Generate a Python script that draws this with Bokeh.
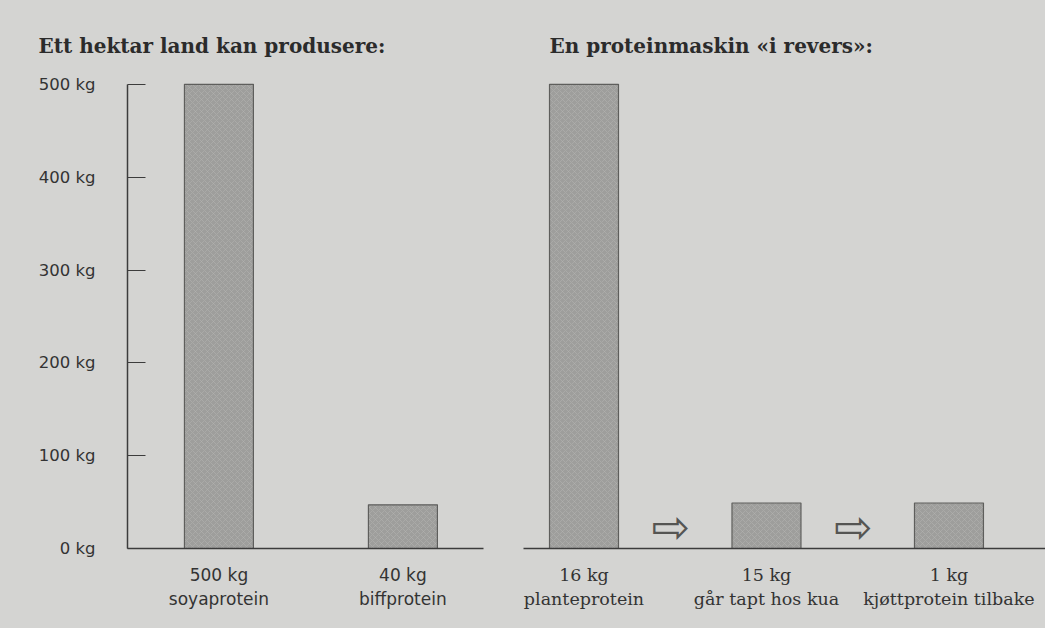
from bokeh.plotting import figure
from bokeh.layouts import row
from bokeh.models import Range1d, FixedTicker
from bokeh.core.properties import value
from bokeh.embed import file_html
from bokeh.resources import INLINE

# ---- data ----
left_title = "Ett hektar land kan produsere:"
left_amounts = ["500 kg", "40 kg"]
left_names = ["soyaprotein", "biffprotein"]
left_values = [500, 47]

right_title = "En proteinmaskin «i revers»:"
right_amounts = ["16 kg", "15 kg", "1 kg"]
right_names = ["planteprotein", "går tapt hos kua", "kjøttprotein tilbake"]
right_values = [500, 49, 49]

y_ticks = [0, 100, 200, 300, 400, 500]
y_tick_labels = ["0 kg", "100 kg", "200 kg", "300 kg", "400 kg", "500 kg"]

arrow_symbol = "⇨"

# ---- style ----
BG = "#d4d4d2"
BAR = "#9e9e9c"
BAR_LINE = "#5e5e5c"
INK = "#333333"
AXIS = "#3c3c3c"
Y_MAX = 502


def style_common(p):
    p.background_fill_color = BG
    p.border_fill_color = BG
    p.outline_line_color = None
    p.grid.visible = False
    p.title.align = "left"
    p.title.text_font = "DejaVu Serif"
    p.title.text_font_size = "20px"
    p.title.text_font_style = "bold"
    p.title.text_color = "#2b2b2b"
    p.title.standoff = 50


def style_xaxis(ax, font, size, ticks, labels):
    ax.ticker = FixedTicker(ticks=ticks)
    ax.major_label_overrides = {t: l for t, l in zip(ticks, labels)}
    ax.major_tick_in = 0
    ax.major_tick_out = 0
    ax.minor_tick_line_color = None
    ax.axis_line_color = AXIS
    ax.axis_line_width = 1.5
    ax.major_label_text_font = font
    ax.major_label_text_font_size = size
    ax.major_label_text_color = INK
    ax.major_label_text_line_height = 1.2
    ax.major_label_standoff = 16


def bars(p, xs, vals, width):
    p.vbar(x=xs, top=vals, bottom=0, width=width,
           fill_color=BAR, line_color=BAR_LINE, line_width=1.2,
           hatch_pattern="x", hatch_color="#b8b8b6", hatch_scale=6,
           hatch_weight=1, hatch_alpha=0.45)


# ---- left panel ----
lx = list(range(len(left_values)))
p1 = figure(width=523, height=628, title=left_title,
            x_range=Range1d(-0.497, 1.438), y_range=Range1d(0, Y_MAX),
            output_backend="svg", toolbar_location=None,
            min_border_left=127, min_border_right=40,
            min_border_top=82, min_border_bottom=80)
style_common(p1)
p1.title.offset = -89
bars(p1, lx, left_values, 0.375)
style_xaxis(p1.xaxis[0], "DejaVu Sans", "17px", lx,
            [a + "\n" + n for a, n in zip(left_amounts, left_names)])
ya = p1.yaxis[0]
ya.ticker = FixedTicker(ticks=y_ticks)
ya.major_label_overrides = {t: l for t, l in zip(y_ticks, y_tick_labels)}
ya.bounds = (0, 500)
ya.major_tick_in = 18
ya.major_tick_out = 0
ya.major_tick_line_color = AXIS
ya.major_tick_line_width = 1.2
ya.minor_tick_line_color = None
ya.axis_line_color = AXIS
ya.axis_line_width = 1.5
ya.major_label_text_font = "DejaVu Sans"
ya.major_label_text_font_size = "16.5px"
ya.major_label_text_color = INK
ya.major_label_standoff = 32

# ---- right panel ----
rx = list(range(len(right_values)))
p2 = figure(width=522, height=628, title=right_title,
            x_range=Range1d(-0.3315, 2.529), y_range=Range1d(0, Y_MAX),
            y_axis_location=None,
            output_backend="svg", toolbar_location=None,
            min_border_left=0, min_border_right=0,
            min_border_top=82, min_border_bottom=80)
style_common(p2)
p2.title.offset = 26
bars(p2, rx, right_values, 0.378)
style_xaxis(p2.xaxis[0], "DejaVu Serif", "17.5px", rx,
            [a + "\n" + n for a, n in zip(right_amounts, right_names)])
ax_pos = [i + 0.475 for i in rx[:-1]]
p2.text(x=ax_pos, y=[23] * len(ax_pos), text=[arrow_symbol] * len(ax_pos),
        text_font=value("DejaVu Sans"), text_font_size="46px",
        text_align="center", text_baseline="middle", text_color="#555553")

layout = row(p1, p2, styles={"background-color": BG})
html = file_html(layout, INLINE)
html = html.replace("<body>", '<body style="margin:0; background-color:%s;">' % BG, 1)
open("out.html", "w").write(html)
